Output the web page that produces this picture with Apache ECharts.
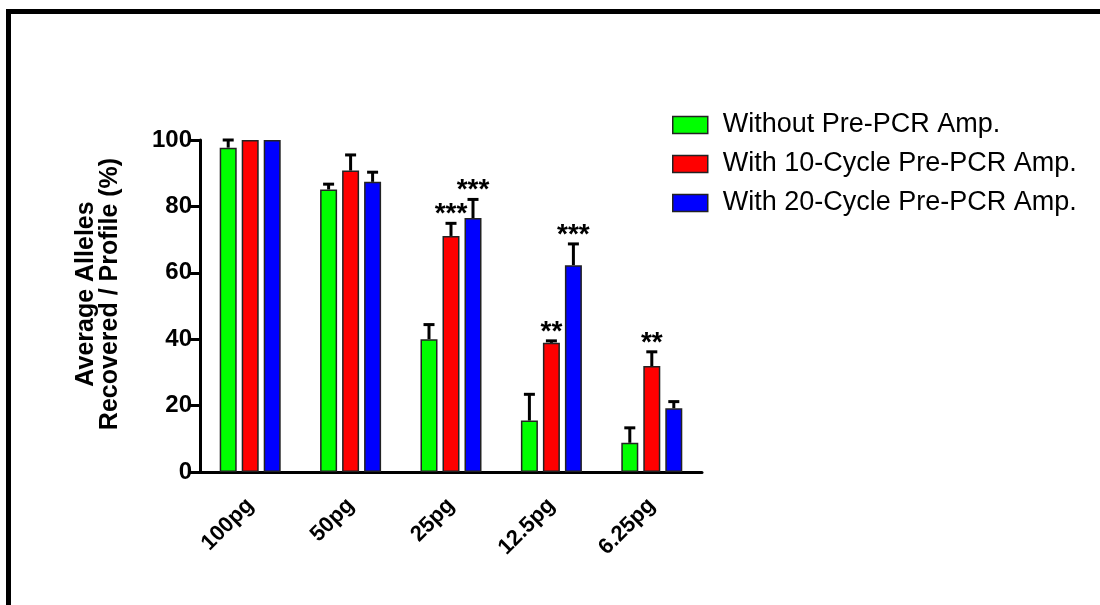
<!DOCTYPE html>
<html>
<head>
<meta charset="utf-8">
<script src="https://cdn.jsdelivr.net/npm/echarts@6/dist/echarts.min.js"></script>
<style>
  html, body { margin: 0; padding: 0; background: #fff; }
  #chart { width: 1100px; height: 605px; }
</style>
</head>
<body>
<div id="chart"></div>
<script>
// Sample amounts on the x axis
const categories = ['100pg', '50pg', '25pg', '12.5pg', '6.25pg'];

// Mean alleles recovered per profile (%) and upper error (SD)
const withoutAmp = [97.7, 85.1, 40.0, 15.5, 8.8];
const withoutAmpErr = [2.3, 1.6, 4.4, 7.9, 4.5];
const cycle10Amp = [100, 90.8, 71.1, 38.9, 31.9];
const cycle10AmpErr = [0, 4.7, 3.8, 0.6, 4.3];
const cycle20Amp = [100, 87.4, 76.5, 62.3, 19.2];
const cycle20AmpErr = [0, 2.9, 5.6, 6.4, 2.0];

// Significance markers above the bars
const cycle10Sig = ['', '', '***', '**', '**'];
const cycle20Sig = ['', '', '***', '***', ''];

const seriesNames = [
  'Without Pre-PCR Amp.',
  'With 10-Cycle Pre-PCR Amp.',
  'With 20-Cycle Pre-PCR Amp.'
];
const yTicks = [0, 20, 40, 60, 80, 100];

const colors = ['#00ff00', '#ff0000', '#0000ff'];
const FONT = '"Liberation Sans", Arial, sans-serif';
const BAR_W = 17;
const BAR_GAP = 5;

const groups = [
  { name: seriesNames[0], values: withoutAmp, err: withoutAmpErr, sig: null },
  { name: seriesNames[1], values: cycle10Amp, err: cycle10AmpErr, sig: cycle10Sig },
  { name: seriesNames[2], values: cycle20Amp, err: cycle20AmpErr, sig: cycle20Sig }
];

const series = [];
groups.forEach((g, k) => {
  series.push({
    name: g.name,
    type: 'bar',
    barWidth: BAR_W,
    barGap: (BAR_GAP / BAR_W * 100) + '%',
    data: g.values,
    itemStyle: { color: colors[k], borderColor: '#222', borderWidth: 1.5 },
    z: 2
  });
});

// Error bars and significance stars, placed over each bar's centre
groups.forEach((g, k) => {
  const offset = (k - 1) * (BAR_W + BAR_GAP);
  series.push({
    type: 'custom',
    name: g.name + ' error',
    data: g.values.map((v, i) => [i, v, g.err[i]]),
    z: 3,
    silent: true,
    renderItem: function (params, api) {
      const i = api.value(0), v = api.value(1), e = api.value(2);
      const children = [];
      const base = api.coord([i, v]);
      const top = api.coord([i, v + e]);
      const x = base[0] + offset;
      if (e > 0) {
        children.push({
          type: 'line',
          shape: { x1: x, y1: base[1], x2: x, y2: top[1] },
          style: { stroke: '#000', lineWidth: 3 }
        });
        children.push({
          type: 'line',
          shape: { x1: x - 5.5, y1: top[1], x2: x + 5.5, y2: top[1] },
          style: { stroke: '#000', lineWidth: 3 }
        });
      }
      const s = g.sig ? g.sig[i] : '';
      if (s) {
        children.push({
          type: 'text',
          style: {
            text: s, x: x, y: top[1] + 5,
            align: 'center', verticalAlign: 'bottom',
            font: 'bold 28px ' + FONT, fill: '#000'
          }
        });
      }
      return { type: 'group', children: children };
    }
  });
});

const chart = echarts.init(document.getElementById('chart'), null, { renderer: 'canvas' });
chart.setOption({
  backgroundColor: '#fff',
  animation: false,
  textStyle: { fontFamily: FONT },
  grid: { left: 200, right: 398, top: 140, bottom: 133, containLabel: false },
  legend: {
    data: seriesNames,
    orient: 'vertical',
    left: 667,
    top: 104,
    itemWidth: 35,
    itemHeight: 17,
    itemGap: 7,
    icon: 'rect',
    textStyle: { fontSize: 27, color: '#000', fontFamily: FONT, lineHeight: 32, padding: [0, 0, 0, 10] },
    itemStyle: { borderColor: '#222', borderWidth: 1.5 }
  },
  xAxis: {
    type: 'category',
    data: categories,
    boundaryGap: true,
    axisLine: { lineStyle: { color: '#000', width: 3 } },
    axisTick: { alignWithLabel: true, length: 9, lineStyle: { color: '#000', width: 3 } },
    axisLabel: { rotate: 45, margin: 30, color: '#000', fontSize: 22, fontWeight: 'bold', fontFamily: FONT }
  },
  yAxis: {
    type: 'value',
    min: 0, max: 100, interval: 20,
    axisLine: { show: true, lineStyle: { color: '#000', width: 3 } },
    axisTick: { show: true, length: 10, lineStyle: { color: '#000', width: 3 } },
    splitLine: { show: false },
    axisLabel: {
      margin: 8, color: '#000', fontSize: 24, fontWeight: 'bold', fontFamily: FONT,
      formatter: v => yTicks.includes(v) ? String(v) : ''
    }
  },
  graphic: [
    // frame lines along top and left edge
    { type: 'rect', shape: { x: 6, y: 9, width: 1094, height: 5 }, style: { fill: '#000' }, silent: true },
    { type: 'rect', shape: { x: 6, y: 9, width: 5, height: 596 }, style: { fill: '#000' }, silent: true },
    {
      type: 'text',
      x: 98, y: 294,
      rotation: Math.PI / 2,
      style: {
        text: 'Average Alleles\nRecovered / Profile (%)',
        font: 'bold 25px ' + FONT,
        fill: '#000',
        align: 'center',
        verticalAlign: 'middle',
        lineHeight: 24
      },
      silent: true
    }
  ],
  series: series
});
</script>
</body>
</html>
